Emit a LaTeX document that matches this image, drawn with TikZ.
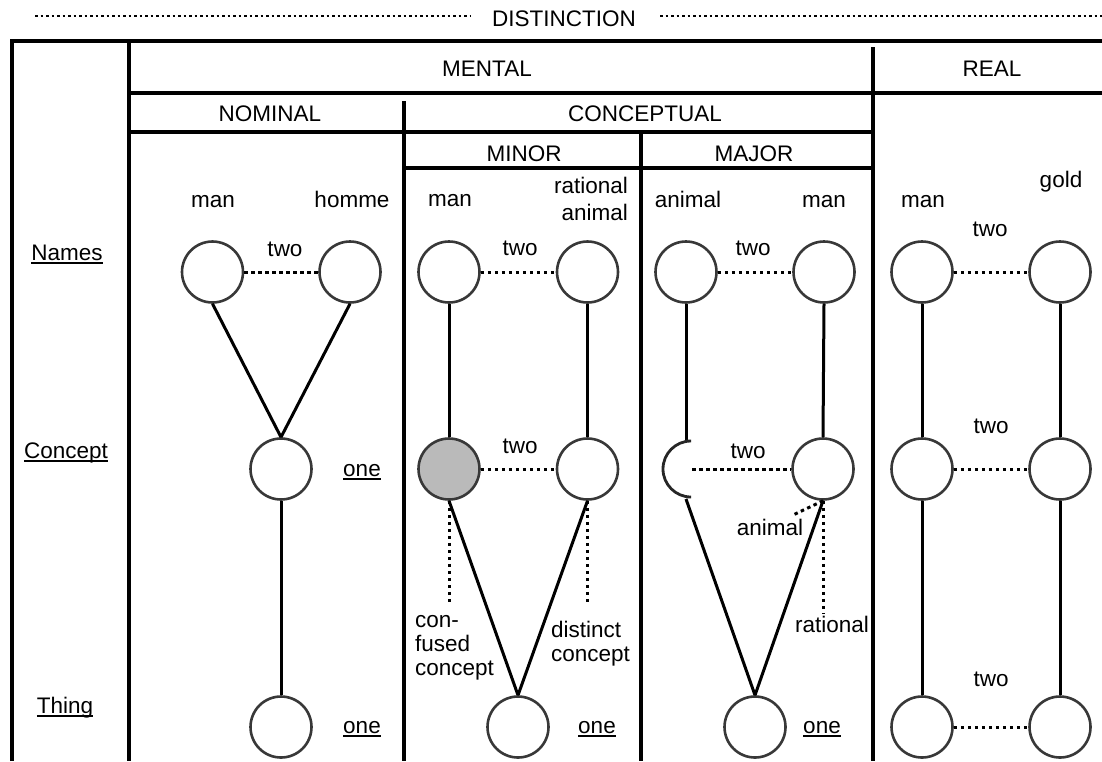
\documentclass[tikz,border=0pt]{standalone}
\usepackage{fontspec}
\setmainfont{Liberation Sans}
\newcommand\ulword[1]{\setbox0\hbox{#1}\rlap{\rule[-4pt]{\wd0}{2pt}}\box0}
\begin{document}
\begin{tikzpicture}[x=1pt,y=-1pt,
  txt/.style={font=\fontsize{22.5}{27}\selectfont, inner sep=0pt, anchor=base},
  circ/.style={circle, draw=black!78, line width=2.6pt, minimum size=61pt, inner sep=0pt},
  gridline/.style={line width=3.2pt},
  conn/.style={line width=3pt},
  dots/.style={line width=3pt, dash pattern=on 3.5pt off 3.5pt},
  topdots/.style={line width=2.5pt, dash pattern=on 2.5pt off 3pt},
]
\useasboundingbox (0,0) rectangle (1102,761);
% title
\node[txt] (dist) at (564,26) {DISTINCTION};
\coordinate (tl1) at (35,16);
\coordinate (tl2) at (470,16);
\coordinate (tr1) at (660,16);
\coordinate (tr2) at (1102,16);
\draw[topdots] (tl1) -- (tl2);
\draw[topdots] (tr1) -- (tr2);
% grid
\draw[gridline] (12,761) -- (12,41) -- (1102,41);
\draw[gridline] (129,41) -- (129,761);
\draw[gridline] (129,93) -- (1102,93);
\draw[gridline] (873,47) -- (873,761);
\draw[gridline] (129,132) -- (873,132);
\draw[gridline] (404,101) -- (404,761);
\draw[gridline] (641,132) -- (641,761);
\draw[gridline] (404,168) -- (873,168);
% headers
\node[txt] (mental) at (487,76) {MENTAL};
\node[txt] (real) at (992,76) {REAL};
\node[txt] (nominal) at (270,121) {NOMINAL};
\node[txt] (conceptual) at (645,121) {CONCEPTUAL};
\node[txt] (minor) at (524,161) {MINOR};
\node[txt] (major) at (754,161) {MAJOR};
% row labels
\node[txt] (rnames) at (67,260) {\ulword{Names}};
\node[txt] (rconcept) at (66,458) {\ulword{Concept}};
\node[txt] (rthing) at (65,713) {\ulword{Thing}};
% ---------- NOMINAL
\node[circ] (na) at (212.5,272) {};
\node[circ] (nb) at (350,272) {};
\node[circ] (nc) at (281,469) {};
\node[circ] (nt) at (281,727) {};
\node[txt] (lna) at (213,207) {man};
\node[txt] (lnb) at (352,207) {homme};
\node[txt] (lntwo) at (285,256) {two};
\node[txt] (lnone1) at (362,476) {\ulword{one}};
\node[txt] (lnone2) at (362,733) {\ulword{one}};
\draw[dots] (na.east) -- (nb.west);
\draw[conn] (na.south) -- (nc.north);
\draw[conn] (nb.south) -- (nc.north);
\draw[conn] (nc.south) -- (nt.north);
% ---------- MINOR
\node[circ] (ia) at (449,272) {};
\node[circ] (ib) at (587.5,272) {};
\node[circ, fill=black!27] (ic1) at (449,469) {};
\node[circ] (ic2) at (587.5,469) {};
\node[circ] (it) at (518,727) {};
\node[txt] (lia) at (450,206) {man};
\node[txt, anchor=base east] (lib1) at (628,193) {rational};
\node[txt, anchor=base east] (lib2) at (628,220) {animal};
\node[txt] (litwo) at (520,255) {two};
\node[txt] (lictwo) at (520,453) {two};
\node[txt] (lione) at (597,733) {\ulword{one}};
\node[txt, anchor=base west] (cf1) at (415,627) {con-};
\node[txt, anchor=base west] (cf2) at (415,651) {fused};
\node[txt, anchor=base west] (cf3) at (415,675) {concept};
\node[txt, anchor=base west] (dc1) at (551,637) {distinct};
\node[txt, anchor=base west] (dc2) at (551,661) {concept};
\coordinate (cfend) at (449,605);
\coordinate (dcend) at (587.5,605);
\draw[dots] (ia.east) -- (ib.west);
\draw[dots] (ic1.east) -- (ic2.west);
\draw[conn] (ia.south) -- (ic1.north);
\draw[conn] (ib.south) -- (ic2.north);
\draw[conn] (ic1.south) -- (it.north);
\draw[conn] (ic2.south) -- (it.north);
\draw[dots] (ic1.south) -- (cfend);
\draw[dots] (ic2.south) -- (dcend);
% ---------- MAJOR
\node[circ] (ja) at (686,272) {};
\node[circ] (jb) at (824,272) {};
\coordinate (jhtop) at (686,441);
\coordinate (jhbot) at (686,497);
\coordinate (jharc) at (691,441);
\node[circ] (jc2) at (823,469) {};
\node[circ] (jt) at (755,727) {};
\node[txt] (lja) at (688,207) {animal};
\node[txt] (ljb) at (824,207) {man};
\node[txt] (ljtwo) at (753,255) {two};
\node[txt] (ljctwo) at (748,458) {two};
\node[txt] (ljanimal) at (770,535) {animal};
\node[txt] (ljrational) at (832,632) {rational};
\node[txt] (ljone) at (822,733) {\ulword{one}};
\coordinate (anend) at (793,515);
\coordinate (raend) at (823,613);
\coordinate (jdot) at (692,469);
\draw[dots] (ja.east) -- (jb.west);
\draw[conn] (ja.south) -- (jhtop);
\draw[draw=black!85, line width=2.8pt] (jhtop) -- (jharc) arc[start angle=90, end angle=270, radius=28pt] -- (jhbot);
\draw[dots] (jdot) -- (jc2.west);
\draw[conn] (jb.south) -- (jc2.north);
\draw[conn] ([yshift=-2pt]jhbot) -- (jt.north);
\draw[conn] (jc2.south) -- (jt.north);
\draw[dots] (jc2.south) -- (anend);
\draw[dots] (jc2.south) -- (raend);
% ---------- REAL
\node[circ] (ra) at (922,272) {};
\node[circ] (rb) at (1060,272) {};
\node[circ] (rc1) at (922,469) {};
\node[circ] (rc2) at (1060,469) {};
\node[circ] (rt1) at (922,727) {};
\node[circ] (rt2) at (1060,727) {};
\node[txt] (lra) at (923,207) {man};
\node[txt] (lrb) at (1061,187) {gold};
\node[txt] (lrtwo) at (990,236) {two};
\node[txt] (lrctwo) at (991,433) {two};
\node[txt] (lrttwo) at (991,686) {two};
\draw[dots] (ra.east) -- (rb.west);
\draw[dots] (rc1.east) -- (rc2.west);
\draw[dots] (rt1.east) -- (rt2.west);
\draw[conn] (ra.south) -- (rc1.north);
\draw[conn] (rb.south) -- (rc2.north);
\draw[conn] (rc1.south) -- (rt1.north);
\draw[conn] (rc2.south) -- (rt2.north);
\end{tikzpicture}
\end{document}
